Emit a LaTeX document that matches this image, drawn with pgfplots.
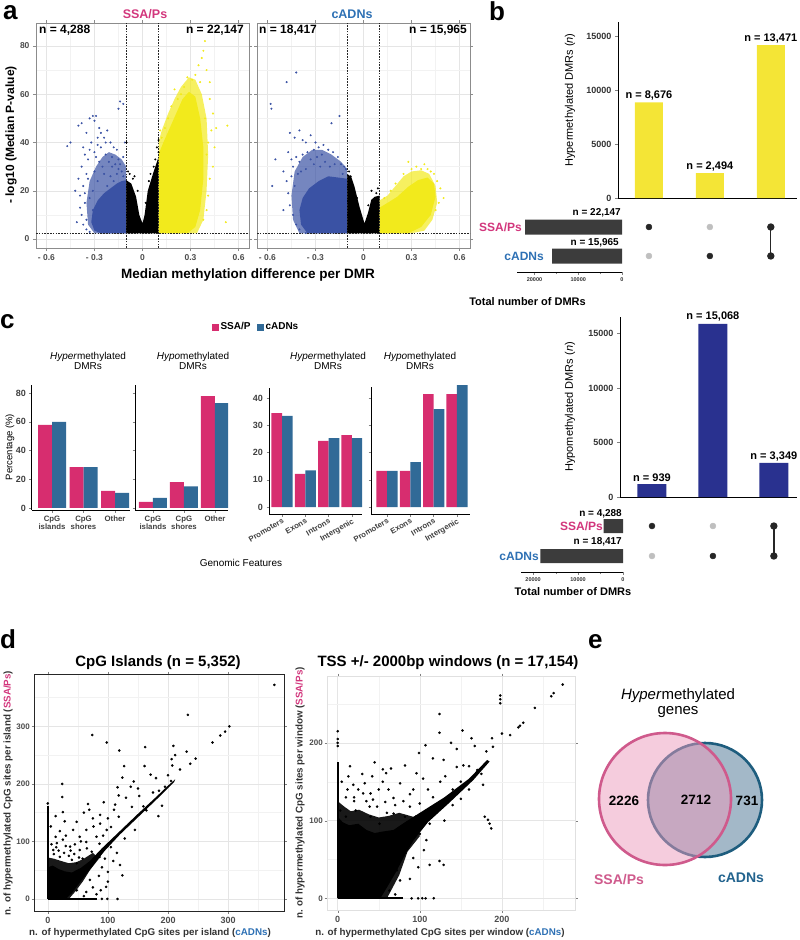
\documentclass[border=0pt]{standalone}
\usepackage{pgfplots}
\pgfplotsset{compat=1.18}
\usepackage{fontspec}
\setmainfont{Liberation Sans}
\newcommand{\fs}[1]{\fontsize{#1}{#1}\selectfont}
\definecolor{ssa}{HTML}{D2367C}
\definecolor{cad}{HTML}{2D70B4}
\definecolor{volblue}{HTML}{3A52A4}
\definecolor{volyel}{HTML}{F2EA1C}
\definecolor{upyel}{HTML}{F4E536}
\definecolor{navy}{HTML}{29318F}
\definecolor{barpink}{HTML}{D72D6F}
\definecolor{barblue}{HTML}{316A97}
\definecolor{mgray}{HTML}{3C3C3C}
\definecolor{vpink}{HTML}{EB99BB}
\definecolor{vpinkedge}{HTML}{CF5A8C}
\definecolor{vblue}{HTML}{A3B8C8}
\definecolor{vblueedge}{HTML}{1E5D7E}
\pgfplotsset{
 every axis/.append style={scale only axis, /pgf/number format/assume math mode=true, /pgf/number format/1000 sep={}, scaled ticks=false},
 vol/.style={width=213pt,height=225pt,xmin=-0.665,xmax=0.665,ymin=-3.7,ymax=89.5,
   xtick={-0.6,-0.3,0,0.3,0.6}, xticklabels={- 0.6,- 0.3,0,0.3,0.6}, ytick={0,20,40,60,80},
   minor xtick={-0.45,-0.15,0.15,0.45}, minor ytick={10,30,50,70}, grid=both,
   major grid style={black!10,line width=0.5pt}, minor grid style={black!5,line width=0.4pt},
   axis line style={black!45,line width=0.9pt}, tick style={black!45,line width=0.5pt},
   tick align=outside, major tick length=3pt, minor tick length=0pt,
   tick label style={font=\bfseries\fs{8.5}, text=black!70}},
 thr/.style={black!85, line width=0.6pt, dash pattern=on 1.6pt off 1.2pt},
 vpt/.style={only marks, mark=*, mark size=0.8pt},
 dpt/.style={only marks, mark=*, mark size=1.1pt, black},
 dsc/.style={grid=both, major grid style={black!10,line width=0.5pt}, minor grid style={black!5,line width=0.4pt},
   tick align=outside, major tick length=2.5pt, minor tick length=0pt,
   x tick label style={font=\bfseries\fs{9}, text=black!70}, y tick label style={font=\bfseries\fs{8}, text=black!70, inner sep=1.5pt}, tick style={black!50}},
 ups/.style={axis x line*=bottom, axis y line*=left, axis line style={line width=0.9pt}, xtick=\empty,
   tick align=outside, major tick length=3pt, tick label style={font=\bfseries\fs{9}, text=black!80}},
 setb/.style={x dir=reverse, xmin=0, axis x line*=bottom, axis y line=none, xbar, axis line style={line width=0.7pt},
   xtick={0,10000,20000}, minor xtick={5000,15000}, tick align=outside, major tick length=2.5pt, minor tick length=2pt,
   tick label style={font=\bfseries\fs{5.5}, text=black!80}},
 cbar/.style={ybar=0pt, axis x line*=bottom, axis y line*=left, axis line style={line width=1pt},
   tick align=outside, major tick length=2.5pt, tick style={line width=0.5pt},
   x tick label style={font=\bfseries\fs{7.8}, text=black!75, align=center},
   y tick label style={font=\bfseries\fs{9}, text=black!75}},
}
\begin{document}
\begin{tikzpicture}[x=1pt,y=1pt]
\useasboundingbox (0,0) rectangle (800,-940);

% ================= panel a left =================
\begin{axis}[vol, at={(36pt,-248pt)}, anchor=south west]
\addplot[fill=volblue, fill opacity=0.7, draw=none] coordinates {(-0.102,2.4)(-0.102,30)(-0.13,33)(-0.17,35)(-0.21,36)(-0.25,34)(-0.29,30)(-0.33,24)(-0.35,15)(-0.34,6)(-0.3,2.4)};
\addplot[fill=volblue, draw=none] coordinates {(-0.102,2.4)(-0.102,24.4)(-0.13,24)(-0.16,23)(-0.2,21)(-0.24,19)(-0.28,16)(-0.31,12)(-0.32,7)(-0.3,3.5)(-0.26,2.4)};
\addplot[vpt, color=volblue] coordinates {(-0.45,40)(-0.47,38.5)(-0.40,47)(-0.38,48)(-0.35,44)(-0.33,50)(-0.31,51)(-0.30,49)(-0.29,51)(-0.27,46)(-0.26,44)(-0.24,42)(-0.22,45)(-0.2,40)(-0.18,38)(-0.16,37)(-0.28,42)(-0.32,40)(-0.36,35)(-0.38,30)(-0.34,33)(-0.30,36)(-0.26,38)(-0.23,35)(-0.21,32)(-0.19,30)(-0.17,31)(-0.15,29)(-0.13,28)(-0.34,25)(-0.37,22)(-0.39,18)(-0.36,15)(-0.38,10)(-0.41,7)(-0.37,6)(-0.33,3)(-0.30,28)(-0.27,32)(-0.25,30)(-0.24,27)(-0.28,24)(-0.31,20)(-0.33,17)(-0.35,27)(-0.29,34)(-0.20,26)(-0.22,22)(-0.18,24)(-0.16,27)(-0.12,26)(-0.14,31)(-0.12,56)(-0.14,57)(-0.15,54)(-0.11,40)(-0.29,9)(-0.31,12)(-0.35,8)(-0.24,3)(-0.4,25)(-0.42,20)(-0.37,38)(-0.33,37)(-0.28,39)(-0.23,40)(-0.19,34)(-0.15,33)(-0.12,34)(-0.36,19)(-0.35,4)(-0.39,13)};
\addplot[fill=black, draw=none] coordinates {(-0.102,2.4)(-0.102,24.4)(-0.07,23)(-0.04,17.5)(-0.02,10)(0.0,6.5)(0.013,10)(0.033,20)(0.065,27)(0.085,31)(0.1,34)(0.1,2.4)};
\addplot[vpt, black] coordinates {(0.09,38)(0.1,36)(0.08,33)(0.1,41)(-0.1,40)(-0.09,28)(0.07,30)(0.05,27)(-0.05,26)(-0.08,27)(-0.06,25)(0.04,24)(0.02,15)(-0.03,20)};
\addplot[fill=volyel, fill opacity=0.7, draw=none] coordinates {(0.1,2.4)(0.1,40)(0.12,45)(0.16,52)(0.2,58)(0.24,63)(0.29,67)(0.33,66)(0.37,60)(0.4,50)(0.41,35)(0.4,20)(0.38,8)(0.34,2.4)};
\addplot[fill=volyel, draw=none] coordinates {(0.1,2.4)(0.1,35)(0.13,40)(0.17,46)(0.21,52)(0.25,58)(0.29,61)(0.33,59)(0.36,50)(0.38,38)(0.38,25)(0.36,12)(0.33,5)(0.28,2.4)};
\addplot[vpt, color=volyel] coordinates {(0.39,82)(0.38,78)(0.37,75)(0.35,72)(0.33,68)(0.31,66)(0.28,67)(0.26,63)(0.24,60)(0.22,58)(0.4,70)(0.42,65)(0.42,58)(0.44,52)(0.43,45)(0.45,38)(0.44,30)(0.42,25)(0.41,18)(0.40,12)(0.38,8)(0.53,47)(0.52,7)(0.18,55)(0.16,50)(0.14,46)(0.12,42)(0.11,45)(0.2,62)(0.36,65)(0.46,46)(0.41,40)(0.40,35)(0.39,50)};
\addplot[thr] coordinates {(-0.1,-3.7)(-0.1,89.5)};
\addplot[thr] coordinates {(0.1,-3.7)(0.1,89.5)};
\addplot[thr] coordinates {(-0.665,2.3)(0.665,2.3)};
\end{axis}

% ================= panel a right =================
\begin{axis}[vol, at={(257pt,-248pt)}, anchor=south west, yticklabels={}]
\addplot[fill=volblue, fill opacity=0.7, draw=none] coordinates {(-0.102,2.4)(-0.102,29)(-0.14,32)(-0.2,35)(-0.26,37)(-0.32,37)(-0.38,34)(-0.43,28)(-0.45,18)(-0.44,8)(-0.4,2.4)};
\addplot[fill=volblue, draw=none] coordinates {(-0.102,2.4)(-0.102,25)(-0.16,25.5)(-0.22,26)(-0.28,24)(-0.34,21)(-0.38,17)(-0.4,12)(-0.39,6)(-0.35,2.4)};
\addplot[vpt, color=volblue] coordinates {(-0.42,69)(-0.48,65)(-0.58,56)(-0.575,54)(-0.15,51)(-0.2,48)(-0.55,33)(-0.57,22)(-0.46,44)(-0.43,42)(-0.40,45)(-0.38,41)(-0.36,40)(-0.33,43)(-0.30,40)(-0.28,38)(-0.25,39)(-0.22,37)(-0.19,36)(-0.16,34)(-0.14,31)(-0.12,30)(-0.47,36)(-0.45,33)(-0.44,30)(-0.42,34)(-0.40,32)(-0.38,35)(-0.35,36)(-0.33,33)(-0.31,31)(-0.29,34)(-0.27,30)(-0.24,32)(-0.21,30)(-0.18,31)(-0.50,28)(-0.48,24)(-0.47,19)(-0.46,14)(-0.44,10)(-0.45,26)(-0.43,22)(-0.41,27)(-0.39,28)(-0.36,29)(-0.13,27)(-0.11,29)(-0.42,6)(-0.4,4)(-0.36,2.5)(-0.5,12)(-0.26,35)(-0.31,37)};
\addplot[fill=black, draw=none] coordinates {(-0.102,2.4)(-0.102,27)(-0.077,25.8)(-0.056,21.7)(-0.025,13.4)(0.006,6.5)(0.027,10.6)(0.048,16.2)(0.069,17.5)(0.1,18)(0.1,2.4)};
\addplot[vpt, black] coordinates {(-0.09,28)(-0.08,26)(0.05,20)(0.08,19)(0.09,21)(-0.04,17)(0.03,14)};
\addplot[fill=volyel, fill opacity=0.7, draw=none] coordinates {(0.1,2.4)(0.1,16)(0.15,18)(0.2,22)(0.25,26)(0.3,28)(0.36,28.5)(0.41,27)(0.45,22)(0.46,15)(0.43,8)(0.38,3.5)(0.3,2.4)};
\addplot[fill=volyel, draw=none] coordinates {(0.1,2.4)(0.1,13)(0.15,15)(0.21,17.5)(0.28,21.7)(0.34,24.4)(0.4,25.5)(0.44,23)(0.45,17.5)(0.42,10)(0.36,5)(0.28,2.4)};
\addplot[vpt, color=volyel] coordinates {(0.28,32)(0.33,30)(0.36,29)(0.4,29)(0.42,28)(0.46,24)(0.48,21)(0.5,17)(0.47,15)(0.44,27)(0.3,29)(0.25,27)(0.2,23)(0.17,20)(0.13,17)(0.38,31)(0.45,12)};
\addplot[thr] coordinates {(-0.1,-3.7)(-0.1,89.5)};
\addplot[thr] coordinates {(0.1,-3.7)(0.1,89.5)};
\addplot[thr] coordinates {(-0.665,2.3)(0.665,2.3)};
\end{axis}

% ================= panel b top =================
\begin{axis}[ups, at={(618pt,-198pt)}, anchor=south west, width=179pt, height=176pt,
  xmin=-0.508, xmax=2.43, ymin=0, ymax=16300, ytick={0,5000,10000,15000}, ybar, bar width=28pt, clip=false]
\addplot[fill=upyel, draw=none] coordinates {(0,8850)(1,2300)(2,14150)};
\node[anchor=south, inner sep=2pt, font=\bfseries\fs{11}] at (axis cs:0,8850) {n = 8,676};
\node[anchor=south, inner sep=2pt, font=\bfseries\fs{11}] at (axis cs:1,2300) {n = 2,494};
\node[anchor=south, inner sep=2pt, font=\bfseries\fs{11}] at (axis cs:2,14150) {n = 13,471};
\end{axis}
\begin{axis}[at={(618pt,-271pt)}, anchor=south west, width=179pt, height=59pt, xmin=-0.508, xmax=2.43, ymin=-0.517, ymax=1.517, hide axis]
\addplot[only marks, mark=*, mark size=3pt, color=black!25] coordinates {(1,1)(0,0)};
\addplot[black!85, line width=1.3pt, mark=*, mark size=3pt] coordinates {(2,0)(2,1)};
\addplot[only marks, mark=*, mark size=3pt, black!85] coordinates {(0,1)(1,0)};
\end{axis}
\begin{axis}[setb, at={(517pt,-272pt)}, anchor=south west, width=105pt, height=60pt, xmax=24000, ymin=-0.55, ymax=1.517, bar width=15pt]
\addplot[fill=mgray, draw=none] coordinates {(22147,1)(15965,0)};
\end{axis}

% ================= panel b bottom =================
\begin{axis}[ups, at={(620pt,-497pt)}, anchor=south west, width=177pt, height=180pt,
  xmin=-0.525, xmax=2.38, ymin=0, ymax=16500, ytick={0,5000,10000,15000}, ybar, bar width=29pt, clip=false]
\addplot[fill=navy, draw=none] coordinates {(0,1190)(1,15870)(2,3120)};
\node[anchor=south, inner sep=2pt, font=\bfseries\fs{11}] at (axis cs:0,1190) {n = 939};
\node[anchor=south, inner sep=2pt, font=\bfseries\fs{11}] at (axis cs:1,15870) {n = 15,068};
\node[anchor=south, inner sep=2pt, font=\bfseries\fs{11}] at (axis cs:2,3120) {n = 3,349};
\end{axis}
\begin{axis}[at={(620pt,-571pt)}, anchor=south west, width=177pt, height=60pt, xmin=-0.525, xmax=2.38, ymin=-0.5, ymax=1.5, hide axis]
\addplot[only marks, mark=*, mark size=3pt, color=black!25] coordinates {(1,1)(0,0)};
\addplot[black!85, line width=1.3pt, mark=*, mark size=3pt] coordinates {(2,0)(2,1)};
\addplot[only marks, mark=*, mark size=3pt, black!85] coordinates {(0,1)(1,0)};
\end{axis}
\begin{axis}[setb, at={(521pt,-572pt)}, anchor=south west, width=102pt, height=61pt, xmax=22700, ymin=-0.533, ymax=1.5, bar width=14pt]
\addplot[fill=mgray, draw=none] coordinates {(4288,1)(18417,0)};
\end{axis}

% ================= panel c =================
\begin{axis}[cbar, at={(32pt,-510pt)}, anchor=south west, width=98pt, height=125pt, bar width=14pt,
  xmin=-0.635, xmax=2.476, ymin=-1.4, ymax=85.7, ytick={0,20,40,60,80}, xtick={0,1,2},
  xticklabels={{CpG\\islands},{CpG\\shores},Other}]
\addplot[fill=barpink, draw=none] coordinates {(0,58)(1,28.5)(2,12)};
\addplot[fill=barblue, draw=none] coordinates {(0,60)(1,28.5)(2,10.5)};
\end{axis}
\begin{axis}[cbar, at={(135pt,-510pt)}, anchor=south west, width=93pt, height=125pt, bar width=14pt,
  xmin=-0.58, xmax=2.42, ymin=-1.4, ymax=85.7, ytick={0,20,40,60,80}, yticklabels={}, xtick={0,1,2},
  xticklabels={{CpG\\islands},{CpG\\shores},Other},
  legend style={at={(1.30,1.464)}, anchor=center, draw=none, fill=none, legend columns=2, font=\bfseries\fs{10}, inner sep=0pt,
   /tikz/every even column/.append style={column sep=4pt}},
  legend image code/.code={\fill[#1] (0pt,-3.5pt) rectangle (7pt,3.5pt);}]
\addplot[fill=barpink, draw=none] coordinates {(0,4.2)(1,18)(2,78)};
\addplot[fill=barblue, draw=none] coordinates {(0,7)(1,15)(2,73)};
\legend{SSA/P, cADNs}
\end{axis}
\begin{axis}[cbar, at={(269pt,-514pt)}, anchor=south west, width=93pt, height=126pt, bar width=10.6pt,
  xmin=-0.56, xmax=3.43, ymin=-2.57, ymax=43.75, ytick={0,10,20,30,40}, xtick={0,1,2,3},
  xticklabels={Promoters,Exons,Introns,Intergenic}, x tick label style={rotate=30, anchor=north east, inner sep=1pt}]
\addplot[fill=barpink, draw=none] coordinates {(0,34.5)(1,12.2)(2,24.3)(3,26.4)};
\addplot[fill=barblue, draw=none] coordinates {(0,33.5)(1,13.5)(2,25.3)(3,25.3)};
\end{axis}
\begin{axis}[cbar, at={(371pt,-514pt)}, anchor=south west, width=99pt, height=127pt, bar width=10.6pt, clip=false,
  xmin=-0.69, xmax=3.56, ymin=-2.57, ymax=44.1, ytick={0,10,20,30,40}, yticklabels={}, xtick={0,1,2,3},
  xticklabels={Promoters,Exons,Introns,Intergenic}, x tick label style={rotate=30, anchor=north east, inner sep=1pt}]
\addplot[fill=barpink, draw=none] coordinates {(0,13.3)(1,13.3)(2,41.5)(3,41.5)};
\addplot[fill=barblue, draw=none] coordinates {(0,13.3)(1,16.5)(2,36)(3,44.8)};
\end{axis}

% ================= panel d left =================
\begin{axis}[dsc, at={(34pt,-911pt)}, anchor=south west, width=250pt, height=237pt,
  xmin=-23, xmax=393, ymin=-21, ymax=391, xtick={0,100,200,300}, ytick={0,100,200,300},
  minor xtick={50,150,250,350}, minor ytick={50,150,250,350}, axis line style={black!85,line width=1pt}]
\addplot[fill=black, fill opacity=0.9, draw=none] coordinates {(0,0)(0,72)(10,70)(22,66)(35,62)(48,64)(60,70)(75,80)(85,70)(70,50)(58,30)(45,12)(35,0)};
\addplot[fill=black, draw=none] coordinates {(0,0)(0,55)(8,58)(18,52)(28,48)(40,46)(55,54)(70,66)(90,88)(120,118)(150,148)(180,177)(200,197)(212,208)(210,203)(180,172)(150,142)(120,112)(95,84)(78,62)(62,40)(50,24)(40,10)(30,0)};
\addplot[black, line width=2.2pt] coordinates {(0,0)(0,162)};
\addplot[black, line width=2pt] coordinates {(0,0)(82,0)};
\addplot[dpt] coordinates {(0,166)(377,372)(233,320)(302,300)(295,291)(287,284)(274,272)(74,285)(98,272)(119,258)(162,264)(209,266)(231,256)(246,244)(237,235)(212,250)(127,231)(161,231)(207,232)(206,243)(171,216)(124,211)(143,204)(138,195)(150,192)(24,200)(24,177)(116,194)(152,179)(118,180)(130,176)(93,168)(112,164)(67,165)(25,151)(69,155)(87,146)(110,155)(118,143)(164,154)(184,144)(190,162)(13,144)(159,161)(120,59)(124,41)(97,21)(109,66)(86,73)(100,47)(42,120)(48,134)(25,103)(15,97)(37,91)(53,108)(64,120)(76,126)(81,108)(98,120)(87,131)(64,99)(53,85)(73,82)(48,62)(59,50)(70,33)(42,38)(31,21)(48,15)(81,8)(64,12)(20,73)(9,85)(5,126)(13,108)(86,96)(90,0)(99,0)(116,0)(30,110)(35,75)(45,95)(58,70)(92,110)(105,125)(135,130)(145,120)(128,105)(140,160)(175,185)(195,195)(205,205)(185,188)(200,215)(220,225)(180,210)(100,140)(75,140)(60,150)(55,100)(20,118)(28,135)(10,78)(18,84)(27,80)(38,84)(6,95)(14,90)(30,92)(44,78)(52,72)(65,88)(40,68)(90,55)(95,70)(100,30)(85,40)(75,20)(60,5)(88,15)(105,90)(115,80)};
\end{axis}

% ================= panel d right =================
\begin{axis}[dsc, at={(327pt,-910pt)}, anchor=south west, width=248pt, height=234pt,
  xmin=-13, xmax=289, ymin=-15, ymax=286, xtick={0,100,200}, ytick={0,100,200},
  minor xtick={50,150,250}, minor ytick={50,150,250}, axis line style={black!12,line width=0.6pt}]
\addplot[fill=black, fill opacity=0.9, draw=none] coordinates {(0,0)(0,125)(8,118)(16,112)(26,114)(38,108)(50,104)(62,106)(75,110)(95,104)(100,80)(85,60)(75,30)(65,10)(60,0)};
\addplot[fill=black, draw=none] coordinates {(0,0)(0,105)(6,98)(14,94)(25,96)(35,88)(45,84)(55,86)(68,88)(82,98)(100,110)(130,130)(160,154)(182,178)(185,176)(165,152)(135,122)(110,98)(92,74)(80,52)(70,32)(60,14)(52,0)};
\addplot[black, line width=2.2pt] coordinates {(0,0)(0,175)};
\addplot[black, line width=2pt] coordinates {(0,0)(80,0)};
\addplot[dpt] coordinates {(0,215)(0,205)(0,200)(0,196)(90,0)(98,0)(103,0)(107,0)(117,0)(274,275)(263,264)(260,260)(240,245)(226,226)(222,222)(220,220)(210,210)(198,261)(198,256)(198,251)(200,212)(188,206)(181,189)(189,195)(177,146)(179,105)(183,101)(185,96)(187,90)(124,237)(124,213)(152,216)(163,206)(167,196)(138,200)(145,192)(107,197)(99,187)(116,180)(129,178)(82,171)(55,166)(59,161)(65,167)(42,157)(13,157)(19,146)(33,148)(76,148)(96,161)(104,154)(145,169)(153,171)(131,157)(88,134)(31,135)(43,127)(68,129)(22,113)(39,118)(100,122)(116,130)(112,96)(100,83)(86,70)(92,52)(112,43)(124,48)(129,43)(76,23)(63,10)(72,36)(47,14)(100,92)(82,105)(68,109)(88,118)(51,96)(3,113)(10,105)(20,125)(50,140)(70,120)(110,140)(125,150)(140,140)(150,150)(160,170)(170,165)(60,110)(40,105)(25,140)(10,130)(120,110)(130,100)(140,120)(95,105)(75,80)(85,90)(5,150)(15,170)(30,160)(45,175)(55,150)(150,128)(160,140)(175,160)(35,125)(48,118)(58,124)(80,125)(92,140)(105,62)(98,40)(108,75)(88,25)(70,5)(20,130)(12,140)(62,140)(40,135)};
\end{axis}

% ================= panel e =================
\begin{axis}[at={(560pt,-900pt)}, anchor=south west, width=240pt, height=220pt, xmin=560, xmax=800, ymin=-900, ymax=-680, hide axis, clip=false]
\addplot[only marks, mark=*, mark size=57pt, mark options={fill=vblue, draw=vblueedge, line width=2.6pt}] coordinates {(705,-800)};
\addplot[only marks, mark=*, mark size=66pt, mark options={fill=vpink, fill opacity=0.5, draw=vpinkedge, line width=2.6pt}] coordinates {(665,-799)};
\end{axis}

% ================= texts =================
\node[anchor=base west, font=\bfseries\fs{26}, inner sep=0pt] at (3,-19) {a};
\node[font=\bfseries\fs{12.5}, text=ssa] at (145,-14) {SSA/Ps};
\node[font=\bfseries\fs{12.5}, text=cad] at (352,-14) {cADNs};
\node[anchor=west, font=\bfseries\fs{12}, inner sep=0pt] at (39,-30) {n = 4,288};
\node[anchor=east, font=\bfseries\fs{12}, inner sep=0pt] at (244,-30) {n = 22,147};
\node[anchor=west, font=\bfseries\fs{12}, inner sep=0pt] at (259,-30) {n = 18,417};
\node[anchor=east, font=\bfseries\fs{12}, inner sep=0pt] at (467,-30) {n = 15,965};
\node[rotate=90, font=\bfseries\fs{12}] at (11,-135) {- log10 (Median P-value)};
\node[font=\bfseries\fs{13.5}] at (248,-275) {Median methylation difference per DMR};

\node[anchor=base west, font=\bfseries\fs{26}, inner sep=0pt] at (489,-20.5) {b};
\node[rotate=90, font=\fs{11}] at (570,-100) {Hypermethylated DMRs (\textit{n})};
\node[anchor=east, font=\bfseries\fs{10}, inner sep=0pt] at (621,-213) {n = 22,147};
\node[anchor=east, font=\bfseries\fs{10}, inner sep=0pt] at (619,-243) {n = 15,965};
\node[anchor=east, font=\bfseries\fs{12}, text=ssa, inner sep=0pt] at (522,-227) {SSA/Ps};
\node[anchor=east, font=\bfseries\fs{12}, text=cad, inner sep=0pt] at (544,-256) {cADNs};
\node[anchor=east, font=\bfseries\fs{11}, inner sep=0pt] at (586,-302) {Total number of DMRs};

\node[rotate=90, font=\fs{11}] at (570,-407) {Hypomethylated DMRs (\textit{n})};
\node[anchor=east, font=\bfseries\fs{10}, inner sep=0pt] at (622,-514) {n = 4,288};
\node[anchor=east, font=\bfseries\fs{10}, inner sep=0pt] at (622,-542) {n = 18,417};
\node[anchor=east, font=\bfseries\fs{12}, text=ssa, inner sep=0pt] at (603,-526) {SSA/Ps};
\node[anchor=east, font=\bfseries\fs{12}, text=cad, inner sep=0pt] at (539,-556) {cADNs};
\node[font=\bfseries\fs{11}] at (573,-592) {Total number of DMRs};

\node[anchor=base west, font=\bfseries\fs{26}, inner sep=0pt] at (0,-328) {c};
\node[align=center, font=\fs{10}] at (88,-361) {\textit{Hyper}methylated\\DMRs};
\node[align=center, font=\fs{10}] at (193,-361) {\textit{Hypo}methylated\\DMRs};
\node[align=center, font=\fs{10}] at (328,-361) {\textit{Hyper}methylated\\DMRs};
\node[align=center, font=\fs{10}] at (420,-361) {\textit{Hypo}methylated\\DMRs};
\node[rotate=90, font=\fs{9.5}] at (10,-447) {Percentage (\%)};
\node[font=\fs{10}] at (241,-563) {Genomic Features};

\node[anchor=base west, font=\bfseries\fs{26}, inner sep=0pt] at (0,-648) {d};
\node[font=\bfseries\fs{15}] at (158,-663) {CpG Islands (n = 5,352)};
\node[font=\bfseries\fs{15}] at (448,-663) {TSS +/- 2000bp windows (n = 17,154)};
\node[rotate=90, font=\bfseries\fs{9.8}, text=black!80, inner sep=0pt] at (8,-793) {n. of hypermethylated CpG sites per island (\textcolor{ssa}{SSA/Ps})};
\node[rotate=90, font=\bfseries\fs{9.8}, text=black!80, inner sep=0pt] at (300,-793) {n. of hypermethylated CpG sites per window (\textcolor{ssa}{SSA/Ps})};
\node[font=\bfseries\fs{9.8}, text=black!80] at (150,-933) {n. of hypermethylated CpG sites per island (\textcolor{cad}{cADNs})};
\node[font=\bfseries\fs{9.8}, text=black!80] at (440,-933) {n. of hypermethylated CpG sites per window (\textcolor{cad}{cADNs})};

\node[anchor=base west, font=\bfseries\fs{26}, inner sep=0pt] at (588,-648) {e};
\node[align=center, font=\fs{15}] at (678,-703) {\textit{Hyper}methylated\\genes};
\node[font=\bfseries\fs{13.5}] at (624,-801) {2226};
\node[font=\bfseries\fs{13.5}] at (696,-800) {2712};
\node[font=\bfseries\fs{13.5}] at (747,-801) {731};
\node[font=\bfseries\fs{14}, text=vpinkedge] at (619,-880) {SSA/Ps};
\node[font=\bfseries\fs{14}, text=vblueedge!70!cad] at (741,-878) {cADNs};
\end{tikzpicture}
\end{document}
